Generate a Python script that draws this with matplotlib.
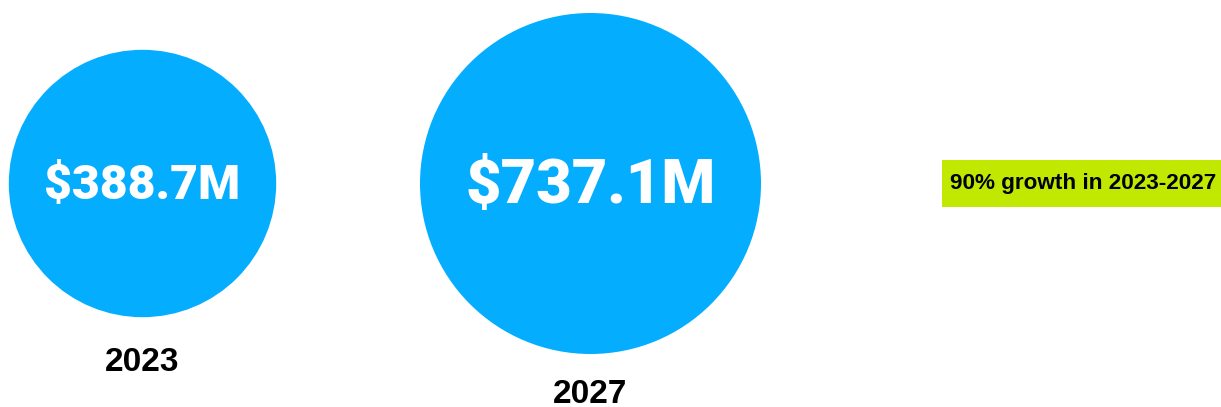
import matplotlib
matplotlib.use("Agg")
import matplotlib.pyplot as plt
from matplotlib.patches import Circle, Rectangle

years = ["2023", "2027"]
values = [388.7, 737.1]
value_labels = ["$388.7M", "$737.1M"]
note = "90% growth in 2023-2027"

W, H = 1221, 407
fig = plt.figure(figsize=(W / 100, H / 100), dpi=100)
ax = fig.add_axes([0, 0, 1, 1])
ax.set_xlim(0, W)
ax.set_ylim(H, 0)
ax.axis("off")

centers_x = [142.5, 590.5]
cy = 183.5
r_max = 170.5
vmax = max(values)
blue = "#05ADFF"

for x, v, lab, yr in zip(centers_x, values, value_labels, years):
    r = r_max * (v / vmax) ** 0.38
    ax.add_patch(Circle((x, cy), r, color=blue, lw=0))
    em_px = 0.36 * r
    ax.text(x, cy + 0.115 * r, lab, color="white", fontsize=em_px * 0.72,
            fontfamily="Roboto", fontweight="black", ha="center", va="baseline")
    base = min(cy + r + 54, H - 4)
    ax.text(x, base, yr, color="black", fontsize=24,
            fontfamily="Liberation Sans", fontweight="bold", ha="center", va="baseline")

ax.add_patch(Rectangle((942, 160), 290, 47, color="#C0E800", lw=0))
ax.text(950, 183.5, note, color="black", fontsize=16.2, fontfamily="Liberation Sans",
        fontweight="bold", ha="left", va="center")

fig.savefig("out.png", dpi=100)
